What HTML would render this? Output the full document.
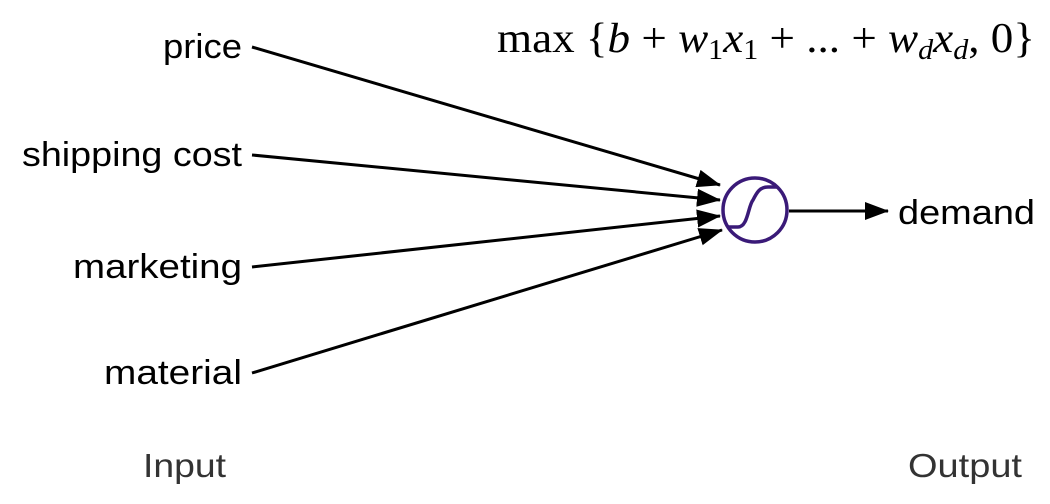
<!DOCTYPE html>
<html><head><meta charset="utf-8"><style>
html,body{margin:0;padding:0;background:#fff;width:1050px;height:504px;overflow:hidden}
svg{display:block}
.l{font-family:"Liberation Sans","DejaVu Sans",sans-serif;font-size:34px;fill:#000}
.io{font-family:"Liberation Sans","DejaVu Sans",sans-serif;font-size:33px;fill:#333}
.m{font-family:"Liberation Serif",serif;font-size:42px;fill:#000}
</style></head><body>
<svg width="1050" height="504" viewBox="0 0 1050 504">
<defs>
<marker id="b" markerWidth="24" markerHeight="18" refX="23" refY="9" orient="auto" markerUnits="userSpaceOnUse"><path d="M0,0 L24,9 L0,18z" fill="#000"/></marker></defs>
<text class="l" x="163" y="58" textLength="79" lengthAdjust="spacingAndGlyphs">price</text>
<text class="l" x="22" y="166" textLength="220" lengthAdjust="spacingAndGlyphs">shipping cost</text>
<text class="l" x="73" y="278" textLength="169" lengthAdjust="spacingAndGlyphs">marketing</text>
<text class="l" x="104" y="384" textLength="138" lengthAdjust="spacingAndGlyphs">material</text>
<text class="l" x="898" y="224" textLength="137" lengthAdjust="spacingAndGlyphs">demand</text>
<text class="io" x="143" y="477" textLength="83" lengthAdjust="spacingAndGlyphs">Input</text>
<text class="io" x="908" y="477" textLength="114" lengthAdjust="spacingAndGlyphs">Output</text>
<g stroke="#000" stroke-width="3" fill="none">
<line x1="252" y1="47" x2="720" y2="185" marker-end="url(#b)"/>
<line x1="252" y1="155" x2="720" y2="200" marker-end="url(#b)"/>
<line x1="252" y1="267" x2="720" y2="216" marker-end="url(#b)"/>
<line x1="252" y1="373" x2="722" y2="230" marker-end="url(#b)"/>
<line x1="789" y1="211" x2="888" y2="211" marker-end="url(#b)"/>
</g>
<circle cx="755" cy="210" r="32" fill="#fff" stroke="#3a1a78" stroke-width="3.5"/>
<path d="M728,227 L738,227 C748,227 748,206 753,200 C757,192 760,187 768,187 L777,187" fill="none" stroke="#3a1a78" stroke-width="3.5"/>
<text class="m" x="497" y="52" textLength="538" lengthAdjust="spacingAndGlyphs">max {<tspan font-style="italic">b</tspan> + <tspan font-style="italic">w</tspan><tspan font-size="28" dy="7">1</tspan><tspan font-style="italic" dy="-7">x</tspan><tspan font-size="28" dy="7">1</tspan><tspan dy="-7"> + ... + </tspan><tspan font-style="italic">w</tspan><tspan font-size="28" font-style="italic" dy="7">d</tspan><tspan font-style="italic" dy="-7">x</tspan><tspan font-size="28" font-style="italic" dy="7">d</tspan><tspan dy="-7">, 0}</tspan></text>
</svg>
</body></html>
